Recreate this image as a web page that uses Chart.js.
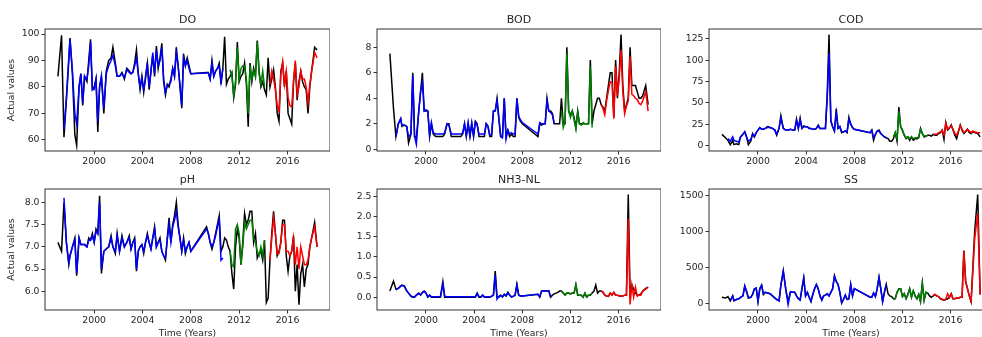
<!DOCTYPE html>
<html>
<head>
<meta charset="utf-8">
<script src="https://cdn.jsdelivr.net/npm/chart.js@4.4.0/dist/chart.umd.min.js"></script>
<style>
  body { margin: 0; background: #fff; overflow: hidden; width: 982px; height: 337px; position: relative; }
  canvas { position: absolute; }
</style>
</head>
<body>
<canvas id="cDO" width="330" height="175" style="left:0;top:0"></canvas>
<canvas id="cBOD" width="326" height="175" style="left:335px;top:0"></canvas>
<canvas id="cCOD" width="326" height="175" style="left:667px;top:0"></canvas>
<canvas id="cPH" width="330" height="180" style="left:0;top:160px"></canvas>
<canvas id="cNH3" width="326" height="180" style="left:335px;top:160px"></canvas>
<canvas id="cSS" width="326" height="180" style="left:667px;top:160px"></canvas>
<script>
//Sampling dates (decimal years)
const years = [
  1997.0, 1997.3, 1997.5, 1997.7, 1997.9, 1998.0, 1998.2, 1998.4, 1998.55, 1998.75,
  1998.9, 1999.05, 1999.2, 1999.4, 1999.55, 1999.7, 1999.85, 2000.0, 2000.15, 2000.3,
  2000.45, 2000.6, 2000.8, 2001.0, 2001.2, 2001.4, 2001.55, 2001.75, 2001.9, 2002.1,
  2002.3, 2002.5, 2002.7, 2002.9, 2003.05, 2003.2, 2003.35, 2003.5, 2003.65, 2003.8,
  2003.95, 2004.1, 2004.25, 2004.4, 2004.55, 2004.7, 2004.85, 2005.0, 2005.15, 2005.3,
  2005.45, 2005.6, 2005.75, 2005.9, 2006.05, 2006.2, 2006.35, 2006.5, 2006.65, 2006.8,
  2006.95, 2007.1, 2007.25, 2007.4, 2007.55, 2007.7, 2007.85, 2008.0, 2009.3, 2009.45,
  2009.6, 2009.75, 2009.9, 2010.05, 2010.2, 2010.35, 2010.5, 2010.65, 2010.8, 2010.95,
  2011.1, 2011.25, 2011.4, 2011.55, 2011.7, 2011.85, 2012.0, 2012.15, 2012.3, 2012.45,
  2012.6, 2012.75, 2012.9, 2013.05, 2013.2, 2013.35, 2013.5, 2013.65, 2013.8, 2013.95,
  2014.1, 2014.25, 2014.4, 2014.55, 2014.7, 2014.85, 2015.0, 2015.15, 2015.3, 2015.45,
  2015.6, 2015.75, 2015.9, 2016.05, 2016.2, 2016.35, 2016.5, 2016.65, 2016.8, 2016.95,
  2017.1, 2017.25, 2017.4, 2017.55, 2017.7, 2017.85, 2018.0, 2018.25, 2018.45
];

//index ranges of the training / validation / testing predictions
const trainIdx = [2, 77];
const valIdx = [81, 100];
const testIdx = [103, 128];

const yearTicks = [2000, 2004, 2008, 2012, 2016];

//DO
const doActual = [
  84, 99.5, 61, 75, 90, 98.5, 85, 62, 58, 80,
  85, 73, 84, 82, 90, 98, 79, 80, 83, 63,
  80, 84, 70, 86, 90, 91, 95, 89, 84, 84,
  85.5, 83, 87, 86, 85, 85.5, 89, 94, 85, 79,
  84, 78, 84, 89, 79, 86, 92, 84, 95.5, 87,
  91, 96.5, 82, 77, 81, 80, 83, 87, 84, 95,
  88, 80, 72, 92.5, 88, 91, 88, 85, 85.5, 85.5,
  83, 90, 84, 86, 87, 89, 81, 87, 99, 81,
  83, 84, 85.5, 76, 81, 97, 82, 84, 85, 89,
  81, 65, 89, 82, 87, 84, 97.5, 86, 80, 82,
  79, 77, 91, 80, 83, 86.5, 80, 70, 67, 86,
  89, 80, 86, 70, 68, 66, 82, 89, 75, 82,
  86, 82, 80, 79, 70, 80, 86, 95, 94
];
const doPred = [
  null, null, 64, 76, 91, 98, 86, 70, 66, 80,
  85, 74, 84, 83, 88, 97, 79, 79, 83, 67,
  80, 84, 72, 85, 88, 90, 92, 88, 84, 84,
  85, 83.5, 86.5, 85.5, 85, 85.5, 88, 91, 85, 80,
  83.5, 79, 83, 89, 80, 86, 93, 85, 94, 88,
  90, 95, 83, 78, 80.5, 81, 82, 87, 84, 93,
  88, 81, 73, 91, 88, 90, 87, 85, 85.3, 85.3,
  83, 89, 84, 86, 87, 88, 82, 87, null, null,
  null, 86.5, 84, 77, 82, 95, 83, 87, 88, 88,
  83, 70, 88, 83, 86, 84, 97, 85, 81, 86,
  80, null, null, 81, 86, 83, 79, 73, 71, 85,
  89.5, 81, 86, 76, 73, 72.5, 82, 90, 77, 80,
  86, 83, 83, 80, 74, 81, 86, 93, 91
];
const doTicks = [60, 70, 80, 90, 100];

//BOD
const bodActual = [
  7.5, 3.2, 1.0, 2.0, 2.4, 1.8, 1.9, 1.8, 0.5, 1.2,
  6.0, 1.0, 0.9, 3.0, 4.5, 6.0, 3.0, 3.0, 3.0, 1.0,
  2.0, 1.2, 1.0, 1.0, 1.0, 1.0, 1.2, 2.0, 2.0, 1.0,
  1.0, 1.0, 1.0, 1.0, 1.2, 2.0, 1.0, 2.0, 1.0, 2.0,
  1.0, 2.2, 2.0, 1.0, 1.0, 1.0, 1.0, 2.0, 1.8, 1.0,
  1.0, 3.0, 3.0, 4.0, 2.5, 1.0, 1.0, 4.0, 1.0, 1.5,
  1.0, 1.2, 1.0, 1.0, 4.0, 2.5, 2.2, 2.0, 1.0, 2.0,
  1.9, 2.0, 2.0, 4.0, 3.0, 3.0, 2.8, 2.0, 2.0, 2.0,
  2.0, 4.0, 2.0, 2.0, 8.0, 3.0, 2.7, 3.0, 2.5, 1.7,
  3.0, 2.0, 2.0, 2.0, 2.0, 2.0, 2.0, 7.0, 2.0, 3.0,
  3.5, 4.0, 4.0, 3.5, 3.3, 3.0, 4.0, 5.0, 6.0, 6.0,
  2.5, 7.0, 4.0, 6.0, 9.0, 5.0, 3.0, 3.5, 4.0, 8.0,
  5.0, 5.0, 5.0, 4.5, 4.0, 4.0, 4.2, 5.0, 3.5
];
const bodPred = [
  null, null, 1.0, 2.0, 2.4, 1.9, 1.9, 1.8, 1.0, 1.2,
  5.8, 1.0, 0.4, 3.0, 4.5, 5.3, 3.0, 3.1, 3.0, 1.1,
  2.1, 1.3, 1.2, 1.2, 1.2, 1.2, 1.3, 2.0, 1.9, 1.2,
  1.2, 1.2, 1.2, 1.2, 1.3, 2.0, 1.1, 2.1, 1.1, 2.1,
  1.1, 2.1, 1.9, 1.2, 1.2, 1.2, 1.2, 2.0, 1.8, 1.1,
  1.2, 3.0, 3.0, 3.8, 2.4, 1.0, 0.9, 4.0, 0.8, 1.5,
  1.2, 1.3, 1.2, 1.2, 4.0, 2.6, 2.3, 2.1, 1.2, 2.1,
  2.0, 2.0, 2.0, 3.8, 3.0, 2.9, 2.7, 2.0, null, null,
  null, 3.0, 1.7, 2.2, 7.5, 3.0, 2.5, 3.0, 2.3, 1.6,
  2.9, 2.0, 1.9, 2.1, 2.0, 2.0, 2.0, 6.5, 1.7, null,
  null, null, null, 3.5, 3.2, 2.7, 3.8, 4.6, 5.3, 5.2,
  2.4, 6.5, 4.2, 5.5, 7.8, 4.5, 2.8, 3.4, 3.8, 7.3,
  4.3, 4.2, 4.0, 3.9, 3.6, 3.5, 3.8, 4.5, 3.0
];
const bodTicks = [0, 2, 4, 6, 8];

//COD
const codActual = [
  13, 9, 6, 1, 6, 1, 2, 1, 10, 13,
  16, 10, 1, 5, 14, 10, 15, 18, 21, 19,
  19, 20, 22, 21, 20, 18, 12, 20, 35, 20,
  18, 18, 19, 18, 18, 31, 20, 32, 20, 23,
  22, 22, 20, 20, 19, 19, 20, 24, 20, 20,
  20, 20, 60, 130, 28, 22, 17, 43, 20, 22,
  15, 16, 17, 15, 33, 25, 21, 19, 15, 18,
  6, 13, 17, 18, 14, 12, 10, 9, 8, 5,
  5, 8, 15, 5, 45, 22, 18, 12, 8, 10,
  6, 10, 6, 8, 8, 9, 20, 14, 10, 11,
  12, 12, 11, 13, 12, 12, 14, 15, 18, 7,
  27, 18, 20, 24, 18, 12, 8, 16, 24, 18,
  14, 16, 19, 15, 14, 16, 15, 14, 10
];
const codPred = [
  null, null, 8, 5, 10, 6, 5, 4, 10, 13,
  16, 10, 5, 7, 13, 11, 15, 18, 21, 19,
  19, 20, 21, 21, 20, 18, 13, 20, 32, 20,
  18, 18, 19, 18, 18, 29, 20, 30, 20, 22,
  22, 22, 20, 20, 19, 19, 20, 23, 20, 20,
  20, 20, 55, 108, 30, 22, 17, 38, 20, 22,
  16, 16, 17, 16, 31, 25, 21, 19, 15, 18,
  9, 13, 17, 17, 14, 12, 10, 9, null, null,
  null, 10, 15, 8, 40, 22, 17, 12, 9, 10,
  8, 10, 8, 9, 9, 10, 19, 14, 11, 11,
  12, null, null, 13, 13, 13, 15, 16, 18, 12,
  26, 19, 21, 23, 19, 14, 12, 17, 23, 19,
  15, 17, 19, 17, 15, 17, 16, 15, 15
];
const codTicks = [0, 25, 50, 75, 100, 125];

//pH
const phActual = [
  7.1, 6.9, 8.0, 7.1, 6.6, 6.8, 7.0, 7.2, 6.35, 7.2,
  7.05, 7.05, 7.05, 7.0, 7.2, 7.15, 7.3, 7.1, 7.4, 7.3,
  8.15, 6.4, 6.9, 6.95, 7.0, 7.25, 7.0, 6.85, 7.3, 6.9,
  7.25, 7.0, 7.1, 7.25, 6.95, 7.1, 7.2, 6.45, 6.9, 7.0,
  7.05, 6.85, 7.1, 7.3, 7.1, 6.95, 7.2, 7.45, 7.0, 7.1,
  7.2, 6.9, 6.8, 6.7, 7.2, 7.65, 7.1, 7.5, 7.7, 8.0,
  7.5, 7.2, 6.9, 7.2, 6.85, 7.0, 7.1, 6.9, 7.45, 7.3,
  7.1, 6.95, 7.1, 7.3, 7.5, 7.7, 6.9, 7.0, 7.2, 7.15,
  7.0, 6.9, 6.4, 6.05, 7.0, 7.4, 7.2, 6.6, 7.1, 7.75,
  7.5, 7.6, 7.8, 7.8, 7.1, 7.3, 6.75, 6.85, 6.9, 6.7,
  7.15, 5.75, 5.85, 6.7, 7.3, 7.8, 7.3, 6.8, 6.9, 7.1,
  7.6, 7.6, 6.8, 6.45, 6.8, 6.9, 7.25, 6.0, 6.6, 5.7,
  6.4, 6.6, 6.1, 6.5, 6.6, 7.0, 7.2, 7.55, 7.0
];
const phPred = [
  null, null, 8.1, 7.1, 6.65, 6.8, 7.0, 7.15, 6.4, 7.2,
  7.05, 7.05, 7.05, 7.0, 7.15, 7.15, 7.25, 7.1, 7.35, 7.3,
  8.0, 6.5, 6.9, 6.95, 7.0, 7.2, 7.0, 6.9, 7.25, 6.9,
  7.2, 7.0, 7.1, 7.2, 6.95, 7.1, 7.15, 6.5, 6.9, 7.0,
  7.05, 6.9, 7.1, 7.25, 7.1, 6.95, 7.2, 7.4, 7.0, 7.1,
  7.15, 6.9, 6.8, 6.75, 7.15, 7.5, 7.1, 7.45, 7.6, 7.8,
  7.45, 7.2, 6.9, 7.15, 6.9, 7.0, 7.1, 6.9, 7.4, 7.3,
  7.1, 7.0, 7.1, 7.25, 7.45, 7.6, 6.7, 6.75, null, null,
  null, 6.9, 6.6, 6.55, 7.4, 7.5, 7.3, 6.6, 7.0, 7.55,
  7.4, 7.5, 7.6, 7.6, 7.2, 7.1, 6.9, 6.8, 7.0, 6.8,
  7.15, null, null, 6.7, 7.2, 7.65, 7.3, 6.85, 6.85, 7.1,
  7.5, 7.5, 6.9, 6.9, 6.8, 6.9, 7.2, 6.6, 7.0, 6.5,
  7.0, 6.8, 6.6, 6.6, 6.7, 7.0, 7.2, 7.45, 7.0
];
const phTicks = [6.0, 6.5, 7.0, 7.5, 8.0];

//NH3-NL
const nh3Actual = [
  0.15, 0.4, 0.2, 0.22, 0.28, 0.3, 0.28, 0.15, 0.1, 0.02,
  0.0, 0.0, 0.05, 0.1, 0.05, 0.12, 0.15, 0.1, 0.0, 0.05,
  0.0, 0.0, 0.0, 0.0, 0.0, 0.38, 0.0, 0.0, 0.0, 0.0,
  0.0, 0.0, 0.0, 0.0, 0.0, 0.0, 0.0, 0.0, 0.0, 0.0,
  0.0, 0.0, 0.1, 0.0, 0.0, 0.05, 0.0, 0.0, 0.0, 0.0,
  0.02, 0.05, 0.65, 0.0, 0.0, 0.05, 0.0, 0.07, 0.03, 0.12,
  0.05, 0.0, 0.02, 0.05, 0.32, 0.05, 0.03, 0.03, 0.07, 0.0,
  0.15, 0.15, 0.15, 0.15, 0.16, 0.0, 0.05, 0.08, 0.1, 0.12,
  0.15, 0.15, 0.1, 0.05, 0.1, 0.1, 0.08, 0.1, 0.1, 0.3,
  0.05, 0.05, 0.05, 0.0, 0.1, 0.0, 0.05, 0.05, 0.1, 0.15,
  0.3, 0.1, 0.15, 0.15, 0.12, 0.05, 0.03, 0.02, 0.1, 0.05,
  0.12, 0.05, 0.05, 0.03, 0.03, 0.03, 0.05, 0.05, 2.55, 0.1,
  0.3, 0.2, 0.1, 0.05, 0.05, 0.08, 0.15, 0.22, 0.25
];
const nh3Pred = [
  null, null, 0.18, 0.22, 0.27, 0.29, 0.27, 0.16, 0.1, 0.03,
  0.01, 0.01, 0.05, 0.09, 0.06, 0.11, 0.14, 0.1, 0.01, 0.05,
  0.01, 0.01, 0.01, 0.01, 0.01, 0.32, 0.02, 0.01, 0.01, 0.01,
  0.01, 0.01, 0.01, 0.01, 0.01, 0.01, 0.01, 0.01, 0.01, 0.01,
  0.01, 0.01, 0.09, 0.01, 0.01, 0.05, 0.01, 0.01, 0.01, 0.01,
  0.02, 0.05, 0.55, -0.05, 0.02, 0.04, 0.01, 0.07, 0.03, 0.11,
  0.05, 0.01, 0.02, 0.05, 0.3, 0.05, 0.03, 0.03, 0.07, 0.01,
  0.15, 0.15, 0.15, 0.15, 0.15, 0.01, null, null, null, null,
  null, 0.15, 0.1, 0.06, 0.1, 0.1, 0.08, 0.1, 0.1, 0.32,
  0.06, 0.05, 0.05, 0.01, 0.09, 0.01, 0.05, 0.06, 0.1, null,
  null, null, null, 0.15, 0.13, 0.05, 0.03, 0.02, 0.1, 0.05,
  0.12, 0.05, 0.05, 0.03, 0.03, 0.03, 0.05, 0.05, 1.95, -0.18,
  0.3, 0.0, 0.25, 0.02, 0.05, 0.05, 0.15, 0.2, 0.25
];
const nh3Ticks = [0.0, 0.5, 1.0, 1.5, 2.0, 2.5];

//SS
const ssActual = [
  80, 70, 90, 30, 100, 30, 50, 60, 80, 100,
  240, 160, 70, 80, 120, 200, 210, 20, 200, 250,
  120, 150, 140, 130, 100, 70, 50, 30, 250, 450,
  200, 20, 160, 150, 150, 100, 60, 40, 200, 350,
  100, 150, 80, 20, 120, 200, 260, 200, 100, 40,
  100, 110, 130, 100, 150, 200, 380, 300, 260, 150,
  0, 50, 110, 50, 60, 260, 100, 200, 80, 80,
  140, 90, 200, 360, 200, 20, 150, 260, 130, 100,
  90, 60, 60, 150, 200, 200, 90, 130, 60, 120,
  200, 80, 170, 100, 60, 120, 20, 280, 40, 150,
  140, 100, 80, 100, 120, 100, 90, 60, 50, 40,
  50, 60, 80, 130, 60, 60, 70, 70, 80, 80,
  730, 300, 200, 100, 20, 500, 1000, 1510, 120
];
const ssPred = [
  null, null, null, 40, 100, 35, 50, 60, 80, 100,
  235, 160, 75, 80, 120, 195, 210, 25, 200, 245,
  125, 150, 140, 130, 100, 75, 50, 35, 245, 440,
  200, -20, 155, 150, 150, 100, 65, 45, 200, 345,
  100, 150, 80, 25, 120, 200, 255, 200, 100, 45,
  100, 110, 130, 100, 150, 200, 370, 300, 255, 150,
  5, 50, 110, 55, 60, 255, 100, 200, 85, 80,
  140, 90, 200, 350, 200, 20, 150, 255, null, null,
  null, 50, 65, 150, 195, 200, 95, 130, 65, 120,
  195, 85, 170, 100, 65, 120, 25, 270, 45, 150,
  140, null, null, 105, 120, 100, 90, 65, 55, 45,
  55, 130, 80, 125, 60, 60, 70, 70, 80, 85,
  720, 300, 200, 100, 25, 450, 900, 1240, 120
];
const ssTicks = [0, 500, 1000, 1500];

Chart.defaults.font.family = '"DejaVu Sans", sans-serif';
Chart.defaults.font.size = 9.3;
Chart.defaults.color = '#262626';

//draws the box around the plot area (matplotlib style)
const frame = {
  id: 'frame',
  afterDraw(chart) {
    const {ctx, chartArea: a} = chart;
    ctx.save();
    ctx.strokeStyle = '#333';
    ctx.lineWidth = 1;
    ctx.strokeRect(a.left, a.top, a.right - a.left, a.bottom - a.top);
    ctx.restore();
  }
};

function drawPanel(id, name, actual, pred, yMin, yMax, yTicks, dec, firstCol, bottomRow) {
  const seg = (r) => years.map((x, i) => ({x: x, y: (i >= r[0] && i <= r[1]) ? pred[i] : null}));
  new Chart(document.getElementById(id), {
    type: 'line',
    data: {
      datasets: [
        {data: seg(trainIdx), borderColor: '#0000ff'},
        {data: seg(valIdx), borderColor: '#008000'},
        {data: seg(testIdx), borderColor: '#ff0000'},
        {data: years.map((x, i) => ({x: x, y: actual[i]})), borderColor: '#000000'}
      ]
    },
    options: {
      responsive: false,
      animation: false,
      events: [],
      elements: {
        point: {radius: 0},
        line: {borderWidth: 1.5, tension: 0}
      },
      plugins: {
        legend: {display: false},
        tooltip: {enabled: false},
        title: {
          display: true,
          text: name,
          fullSize: false,
          font: {size: 11, weight: 'normal'},
          padding: {top: 13.4, bottom: 2.4}
        }
      },
      scales: {
        x: {
          type: 'linear',
          min: 1995.93,
          max: 2019.52,
          afterBuildTicks: s => { s.ticks = yearTicks.map(v => ({value: v})); },
          afterFit: s => { s.height = bottomRow ? 30 : 24; },
          ticks: {callback: v => String(v), padding: 2, maxRotation: 0, autoSkip: false},
          grid: {drawOnChartArea: false, tickLength: 3.5, tickColor: '#333'},
          border: {display: false},
          title: {display: bottomRow, text: 'Time (Years)', padding: {top: 0, bottom: 0.5}}
        },
        y: {
          min: yMin,
          max: yMax,
          afterBuildTicks: s => { s.ticks = yTicks.map(v => ({value: v})); },
          afterFit: s => { s.width = firstCol ? 45 : 42; },
          ticks: {callback: v => v.toFixed(dec), padding: 2},
          grid: {drawOnChartArea: false, tickLength: 3.5, tickColor: '#333'},
          border: {display: false},
          title: {display: firstCol, text: 'Actual values', padding: {top: 6.4, bottom: 0}}
        }
      }
    },
    plugins: [frame]
  });
}

drawPanel('cDO', 'DO', doActual, doPred, 55.8, 101.9, doTicks, 0, true, false);
drawPanel('cBOD', 'BOD', bodActual, bodPred, -0.13, 9.43, bodTicks, 0, false, false);
drawPanel('cCOD', 'COD', codActual, codPred, -6.5, 136.5, codTicks, 0, false, false);
drawPanel('cPH', 'pH', phActual, phPred, 5.58, 8.30, phTicks, 1, true, true);
drawPanel('cNH3', 'NH3-NL', nh3Actual, nh3Pred, -0.32, 2.69, nh3Ticks, 1, false, true);
drawPanel('cSS', 'SS', ssActual, ssPred, -96, 1586, ssTicks, 0, false, true);
</script>
</body>
</html>
